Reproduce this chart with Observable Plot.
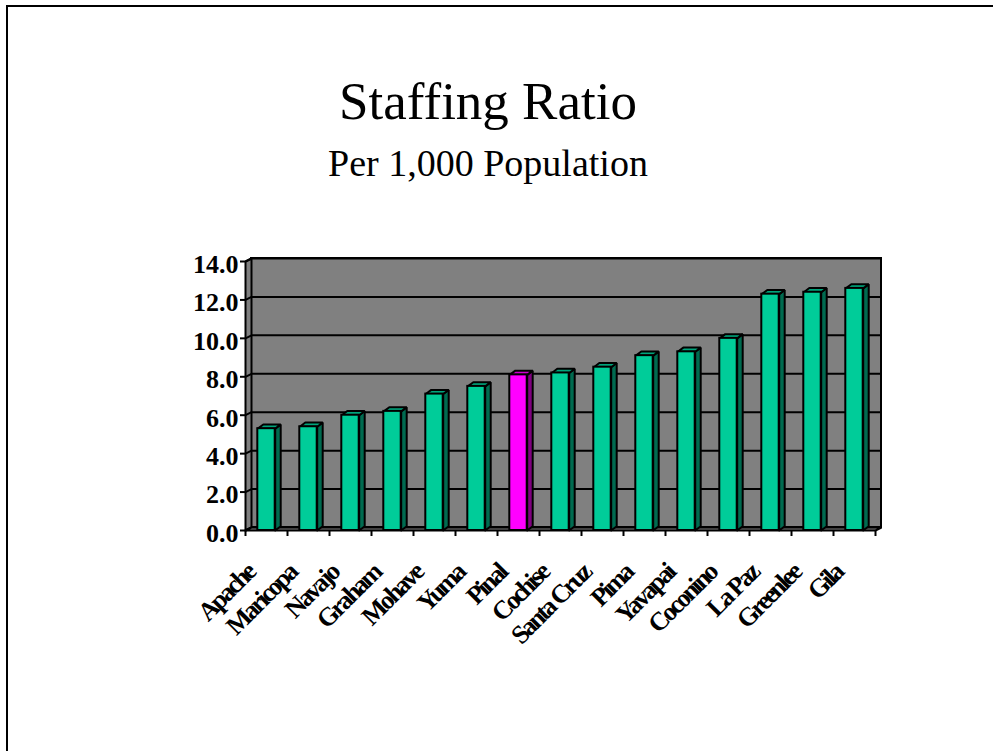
<!DOCTYPE html>
<html>
<head>
<meta charset="utf-8">
<script src="https://cdn.jsdelivr.net/npm/d3@7"></script>
<script src="https://cdn.jsdelivr.net/npm/@observablehq/plot@0.6"></script>
<style>
  body { margin: 0; background: #fff; }
  #slide { position: relative; width: 993px; height: 751px; overflow: hidden; font-family: "Liberation Serif", "Times New Roman", serif; color: #000; }
  #frame { position: absolute; left: 6px; top: 5px; width: 1100px; height: 900px; border-left: 2.5px solid #000; border-top: 2.5px solid #000; }
  .title { position: absolute; left: 0; width: 976px; text-align: center; white-space: nowrap; }
  #t1 { top: 75px; font-size: 53px; line-height: 53px; }
  #t2 { top: 144px; font-size: 38px; line-height: 38px; }
  #chart { position: absolute; left: 0; top: 200px; }
  #chart g.county-labels text { letter-spacing: -2.6px; }
</style>
</head>
<body>
<div id="slide">
  <div id="frame"></div>
  <div class="title" id="t1">Staffing Ratio</div>
  <div class="title" id="t2">Per 1,000 Population</div>
  <div id="chart"></div>
</div>
<script>
// Staff per 1,000 population, by county
const counties = ["Apache", "Maricopa", "Navajo", "Graham", "Mohave", "Yuma", "Pinal", "Cochise",
                  "Santa Cruz", "Pima", "Yavapai", "Coconino", "La Paz", "Greenlee", "Gila"];
const ratios = [5.3, 5.4, 6.0, 6.2, 7.1, 7.5, 8.1, 8.2, 8.5, 9.1, 9.3, 10.0, 12.3, 12.4, 12.6];
const highlighted = "Pinal";
const yTicks = [0, 2, 4, 6, 8, 10, 12, 14];
const yMax = 14;

// plot geometry
const W = 993, H = 551;
const margin = {top: 61, right: 118, bottom: 221, left: 245};
const n = counties.length;
const pxPerX = (W - margin.left - margin.right) / n;
const pxPerY = (H - margin.top - margin.bottom) / yMax;

// pseudo-3D depth (pixels converted to data units)
const wallDX = 6 / pxPerX, wallDY = 3 / pxPerY;
const barDX = 5.5 / pxPerX, barDY = 4.2 / pxPerY;
const halfW = 8.7 / pxPerX;

const gray = "#808080";
const greenShades = {face: "#00cc99", top: "#00a47b", side: "#006b50"};
const pinkShades = {face: "#ff00ff", top: "#cc00cc", side: "#800080"};

const rows = counties.map((name, i) => ({
  name, c: i + 0.5, v: ratios[i], shades: name === highlighted ? pinkShades : greenShades
}));

// side and top faces of each column
const faces = [];
for (const d of rows) {
  const l = d.c - halfW, r = d.c + halfW;
  const side = [[r, 0], [r + barDX, barDY], [r + barDX, d.v + barDY], [r, d.v], [r, 0]];
  const top = [[l, d.v], [l + barDX, d.v + barDY], [r + barDX, d.v + barDY], [r, d.v], [l, d.v]];
  side.forEach(([x, y]) => faces.push({key: d.name + " side", x, y, color: d.shades.side}));
  top.forEach(([x, y]) => faces.push({key: d.name + " top", x, y, color: d.shades.top}));
}

const toPts = (arr) => arr.map(([x, y]) => ({x, y}));
const leftWall = toPts([[0, 0], [wallDX, wallDY], [wallDX, yMax + wallDY], [0, yMax], [0, 0]]);
const floor = toPts([[0, 0], [wallDX, wallDY], [n + wallDX, wallDY], [n, 0], [0, 0]]);

const lineStyle = {stroke: "#000", strokeWidth: 2, strokeLinejoin: "miter"};

const chart = Plot.plot({
  width: W,
  height: H,
  marginTop: margin.top, marginRight: margin.right, marginBottom: margin.bottom, marginLeft: margin.left,
  style: {fontFamily: "'Liberation Serif', 'Times New Roman', serif", background: "transparent", overflow: "visible", color: "#000"},
  x: {domain: [0, n], axis: null},
  y: {domain: [0, yMax], axis: null},
  color: {type: "identity"},
  marks: [
    // back wall with gridlines
    Plot.rect([0], {x1: wallDX, x2: n + wallDX, y1: wallDY, y2: yMax + wallDY, fill: gray, ...lineStyle}),
    Plot.ruleY(yTicks, {y: (d) => d + wallDY, x1: wallDX, x2: n + wallDX, ...lineStyle}),
    // side wall and floor
    Plot.line(leftWall, {x: "x", y: "y", fill: gray, ...lineStyle}),
    Plot.link(yTicks, {x1: 0, y1: (d) => d, x2: wallDX, y2: (d) => d + wallDY, ...lineStyle}),
    Plot.line(floor, {x: "x", y: "y", fill: gray, ...lineStyle}),
    // columns
    Plot.line(faces, {x: "x", y: "y", z: "key", fill: "color", ...lineStyle}),
    Plot.rect(rows, {x1: (d) => d.c - halfW, x2: (d) => d.c + halfW, y1: 0, y2: "v", fill: (d) => d.shades.face, ...lineStyle}),
    // category ticks
    Plot.ruleX(d3.range(n + 1), {y1: 0, y2: -6 / pxPerY, ...lineStyle}),
    // value axis: tick marks, then labels sitting slightly below each tick
    Plot.axisY(yTicks, {tickSize: 5, tickFormat: () => "", strokeWidth: 2}),
    Plot.axisY(yTicks, {tickSize: 0, tickPadding: 7, dy: 3, tickFormat: d3.format(".1f"), fontSize: 26, fontWeight: "bold"}),
    // category labels
    Plot.text(rows, {x: "c", y: 0, text: "name", rotate: -45, textAnchor: "end", dx: -16, dy: 38,
                     fontSize: 26, fontWeight: "bold", className: "county-labels"})
  ]
});
document.getElementById("chart").append(chart);
</script>
</body>
</html>
